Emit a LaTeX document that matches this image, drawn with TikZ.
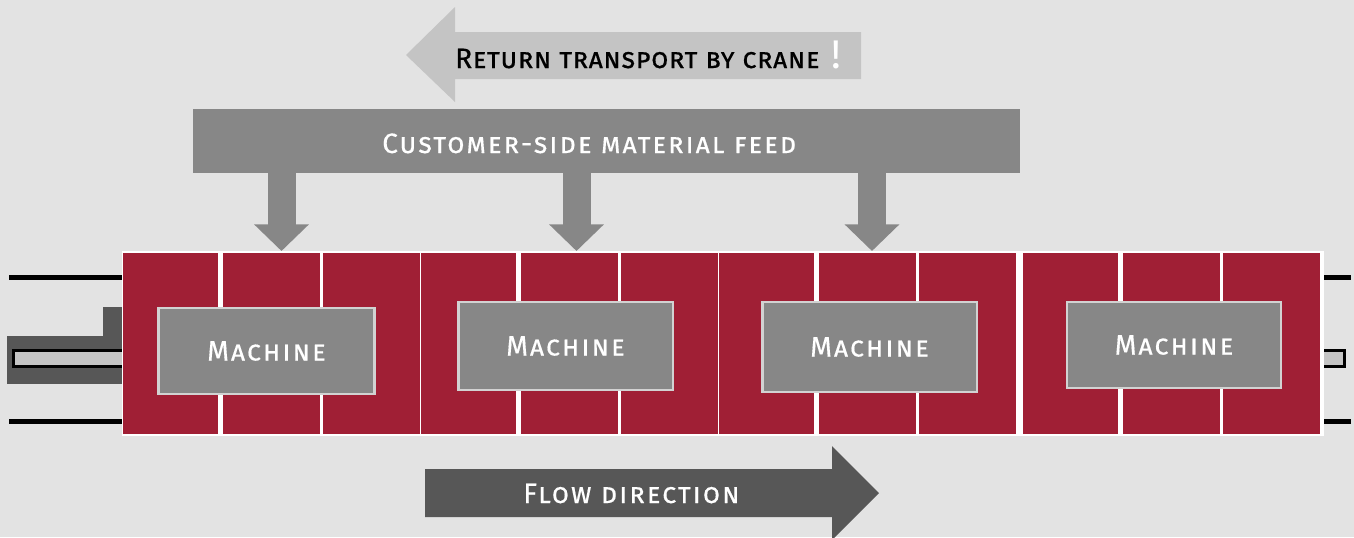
\documentclass[tikz,border=0pt]{standalone}
\usepackage{fontspec}
\setmainfont{Fira Sans}
\usetikzlibrary{arrows.meta}

\definecolor{bggray}{HTML}{E3E3E3}
\definecolor{lightgray}{HTML}{C4C4C4}
\definecolor{midgray}{HTML}{878787}
\definecolor{darkgray}{HTML}{575757}
\definecolor{cellred}{HTML}{A01F35}
\definecolor{rimgray}{HTML}{D2D2D2}

\newcommand\labelfont{\fontsize{21}{25}\selectfont\addfontfeatures{LetterSpace=7,FakeBold=0.4}\scshape}
\newcommand\returnfont{\fontsize{21}{25}\selectfont\addfontfeatures{LetterSpace=2,FakeBold=0.6}\scshape}

\tikzset{
  machine/.style={draw=rimgray, line width=2pt, fill=midgray, text=white,
    inner sep=0pt, font=\labelfont},
  cell/.style={fill=cellred},
  label/.style={inner sep=0pt, font=\labelfont},
  feedarrow/.style={draw=midgray, line width=21pt,
    -{Triangle[width=40pt,length=20pt]}},
  rail/.style={line width=3.75pt, black},
}

\begin{document}
\begin{tikzpicture}[x=0.75pt,y=-0.75pt]
        \useasboundingbox[fill=bggray] (0,0) rectangle (1354,537);
        \clip (0,0) rectangle (1354,537);

        % return transport arrow
        \fill[lightgray] (406,55) -- (455,7) -- (455,32) -- (861,32)
          -- (861,79) -- (455,79) -- (455,102) -- cycle;
        \node[label, font=\returnfont, anchor=base west] (ret) at (455,68)
          {Return transport by crane\hspace{9pt}{\color{white}\fontsize{30}{30}\selectfont\addfontfeatures{FakeBold=0}\upshape !}};

        % material feed
        \node[fill=midgray, minimum width=620.25pt, minimum height=48pt] (feed) at (606.5,141) {};
        \node[label, text=white, anchor=base west] (feedtext) at (382,153) {Customer-side material feed};

        \coordinate (f1) at (281.5,251);
        \coordinate (f2) at (576.5,251);
        \coordinate (f3) at (872,251);
        \draw[feedarrow] (feed.south -| f1) -- (f1);
        \draw[feedarrow] (feed.south -| f2) -- (f2);
        \draw[feedarrow] (feed.south -| f3) -- (f3);

        % rails and shuttle
        \draw[rail] (9,277.5) -- (122,277.5);
        \draw[rail] (9,421.5) -- (122,421.5);
        \draw[rail] (1324,277.5) -- (1351,277.5);
        \draw[rail] (1324,421.5) -- (1351,421.5);
        \fill[darkgray] (7,336) rectangle (122,384);
        \fill[darkgray] (103,307) rectangle (122,336);
        \draw[black, line width=2.25pt, fill=lightgray] (13.5,350.5) rectangle (130,366.5);
        \draw[black, line width=2.25pt, fill=lightgray] (1310,350.5) rectangle (1344.5,366.5);

        % cells
        \fill[white] (122,251) rectangle (1324,436);
        \foreach \g in {123,421,719,1023}
          \foreach \a/\b in {0/95, 100/197, 200/297}
            \fill[cell] (\g+\a,253) rectangle (\g+\b,434);

        % machines
        \node[machine, minimum width=162pt, minimum height=64.5pt] (m1) at (266.5,351) {Machine};
        \node[machine, minimum width=161pt, minimum height=66pt] (m2) at (565.5,346) {Machine};
        \node[machine, minimum width=161pt, minimum height=67.5pt] (m3) at (869.5,347) {Machine};
        \node[machine, minimum width=160.5pt, minimum height=64.5pt] (m4) at (1174,345) {Machine};

        % flow direction arrow
        \fill[darkgray] (425,469) -- (832,469) -- (832,446) -- (879,493)
          -- (832,540) -- (832,517) -- (425,517) -- cycle;
        \node[label, text=white, anchor=base west] (flow) at (523,503) {Flow direction};
      \end{tikzpicture}
\end{document}
